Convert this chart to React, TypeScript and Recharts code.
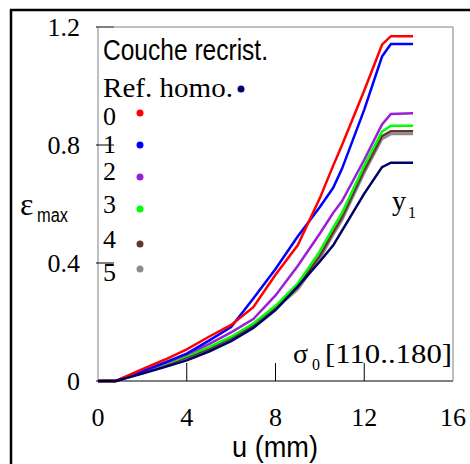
import { LineChart, Line, XAxis, YAxis } from "recharts";

// displacement u (mm), shared by every series
const U_MM = [0, 0.8, 2, 3, 4, 5, 6, 7, 8, 9, 10, 10.6, 11, 12, 12.8, 13.2, 14.2];

// eps_max per case (0..5) + homogeneous reference
const EPS_0 = [0, 0, 0.04, 0.072, 0.107, 0.15, 0.19, 0.25, 0.36, 0.46, 0.62, 0.73, 0.8, 0.985, 1.14, 1.169, 1.169];
const EPS_1 = [0, 0, 0.033, 0.062, 0.093, 0.137, 0.183, 0.28, 0.38, 0.49, 0.59, 0.655, 0.72, 0.92, 1.1, 1.142, 1.142];
const EPS_2 = [0, 0, 0.03, 0.06, 0.09, 0.125, 0.165, 0.21, 0.29, 0.39, 0.5, 0.57, 0.61, 0.75, 0.87, 0.905, 0.908];
const EPS_3 = [0, 0, 0.03, 0.057, 0.085, 0.115, 0.15, 0.195, 0.255, 0.33, 0.44, 0.52, 0.57, 0.73, 0.845, 0.865, 0.865];
const EPS_4 = [0, 0, 0.028, 0.054, 0.08, 0.11, 0.145, 0.19, 0.25, 0.32, 0.425, 0.505, 0.555, 0.715, 0.83, 0.847, 0.847];
const EPS_5 = [0, 0, 0.027, 0.052, 0.078, 0.107, 0.14, 0.185, 0.245, 0.31, 0.415, 0.495, 0.545, 0.705, 0.82, 0.837, 0.837];
const EPS_REF = [0, 0, 0.025, 0.047, 0.07, 0.1, 0.135, 0.18, 0.24, 0.32, 0.405, 0.46, 0.51, 0.635, 0.725, 0.74, 0.74];

const X_TICKS = [0, 4, 8, 12, 16];
const Y_TICKS = [0, 0.4, 0.8, 1.2];
const CASE_LABELS = ["0", "1", "2", "3", "4", "5"];

const COLORS: Record<string, string> = {
  s0: "#ff0000",
  s1: "#0000ff",
  s2: "#9a1fd6",
  s3: "#00ff00",
  s4: "#663333",
  s5: "#8c8c8c",
  ref: "#000066",
};

const SERIF = "'Liberation Serif', 'Times New Roman', serif";
const SANS = "'Liberation Sans', Arial, sans-serif";

const rows = U_MM.map((u, i) => ({
  u,
  s0: EPS_0[i],
  s1: EPS_1[i],
  s2: EPS_2[i],
  s3: EPS_3[i],
  s4: EPS_4[i],
  s5: EPS_5[i],
  ref: EPS_REF[i],
}));

// draw order: reference last so it sits on top at the start
const DRAW_ORDER = ["s5", "s4", "s3", "s2", "s1", "s0", "ref"];

function XTick(props: any) {
  const { x, y, payload } = props;
  const v = payload.value;
  return (
    <g>
      {v > 0 && v < 16 && <line x1={x} x2={x} y1={y} y2={y - 18} stroke="#000" strokeWidth={1} />}
      <text x={x} y={y + 45} textAnchor="middle" fontFamily={SERIF} fontSize={26} fill="#000">
        {v}
      </text>
    </g>
  );
}

function YTick(props: any) {
  const { x, y, payload } = props;
  const v = payload.value;
  return (
    <g>
      <line x1={x - 2} x2={x + 16} y1={y} y2={y} stroke="#000" strokeWidth={1} />
      <text x={x - 18} y={y + 9} textAnchor="end" fontFamily={SERIF} fontSize={26} fill="#000">
        {v}
      </text>
    </g>
  );
}

// legend rows (baseline of digit, dot centre y)
const LEGEND_ROWS = [
  { key: "s0", base: 125, dot: 113 },
  { key: "s1", base: 153, dot: 145 },
  { key: "s2", base: 180, dot: 177 },
  { key: "s3", base: 213, dot: 209 },
  { key: "s4", base: 248, dot: 244 },
  { key: "s5", base: 281, dot: 269 },
];

export default function App() {
  return (
    <div style={{ position: "absolute", left: 0, top: 0, width: 470, height: 464, background: "#fff", overflow: "hidden" }}>
      <LineChart width={470} height={464} data={rows} margin={{ top: 27, right: 17, bottom: 43, left: 38 }}>
        <XAxis
          dataKey="u"
          type="number"
          domain={[0, 16]}
          ticks={X_TICKS}
          height={40}
          axisLine={{ stroke: "#000", strokeWidth: 1 }}
          tickLine={false}
          tickSize={0}
          tickMargin={0}
          tick={<XTick />}
          interval={0}
        />
        <YAxis
          type="number"
          domain={[0, 1.2]}
          ticks={Y_TICKS}
          width={60}
          axisLine={{ stroke: "#808080", strokeWidth: 1 }}
          tickLine={false}
          tickSize={0}
          tickMargin={0}
          tick={<YTick />}
          interval={0}
        />
        {DRAW_ORDER.map((k) => (
          <Line
            key={k}
            type="linear"
            dataKey={k}
            stroke={COLORS[k]}
            strokeWidth={2.5}
            dot={false}
            isAnimationActive={false}
          />
        ))}
      </LineChart>

      <svg
        width={470}
        height={464}
        style={{ position: "absolute", left: 0, top: 0, pointerEvents: "none" }}
      >
        {/* outer frame: top and left only */}
        <line x1={10} x2={470} y1={10} y2={10} stroke="#000" strokeWidth={2.5} />
        <line x1={11} x2={11} y1={9} y2={464} stroke="#000" strokeWidth={2.5} />
        {/* plot frame (top / right) */}
        <line x1={98} x2={453} y1={27} y2={27} stroke="#808080" strokeWidth={1} />
        <line x1={453} x2={453} y1={27} y2={381} stroke="#808080" strokeWidth={1} />

        {/* axis titles */}
        <text x={20} y={215} fontFamily={SERIF} fontSize={32} fill="#000">ε</text>
        <text x={37} y={222} fontFamily={SANS} fontSize={20} textLength={31} lengthAdjust="spacingAndGlyphs" fill="#000">max</text>
        <text x={232} y={457} fontFamily={SANS} fontSize={29} textLength={86} lengthAdjust="spacingAndGlyphs" fill="#000">u (mm)</text>

        {/* legend */}
        <text x={103} y={60} fontFamily={SANS} fontSize={30} textLength={165} lengthAdjust="spacingAndGlyphs" fill="#000">Couche recrist.</text>
        <text x={103} y={97} fontFamily={SERIF} fontSize={27} textLength={130} lengthAdjust="spacingAndGlyphs" fill="#000">Ref. homo.</text>
        <circle cx={241} cy={89} r={3.5} fill={COLORS.ref} />
        {LEGEND_ROWS.map((r, i) => (
          <g key={r.key}>
            <text x={103} y={r.base} fontFamily={SERIF} fontSize={26} fill="#000">{CASE_LABELS[i]}</text>
            <circle cx={140} cy={r.dot} r={3.5} fill={COLORS[r.key]} />
          </g>
        ))}

        {/* annotations */}
        <text x={392} y={210} fontFamily={SERIF} fontSize={28} fill="#000">y</text>
        <text x={408} y={218} fontFamily={SERIF} fontSize={16} fill="#000">1</text>
        <text x={293} y={363} fontFamily={SERIF} fontSize={28} fill="#000">σ</text>
        <text x={312} y={370} fontFamily={SERIF} fontSize={16} fill="#000">0</text>
        <text x={325} y={363} fontFamily={SERIF} fontSize={28} textLength={127} lengthAdjust="spacingAndGlyphs" fill="#000">[110..180]</text>
      </svg>
    </div>
  );
}
